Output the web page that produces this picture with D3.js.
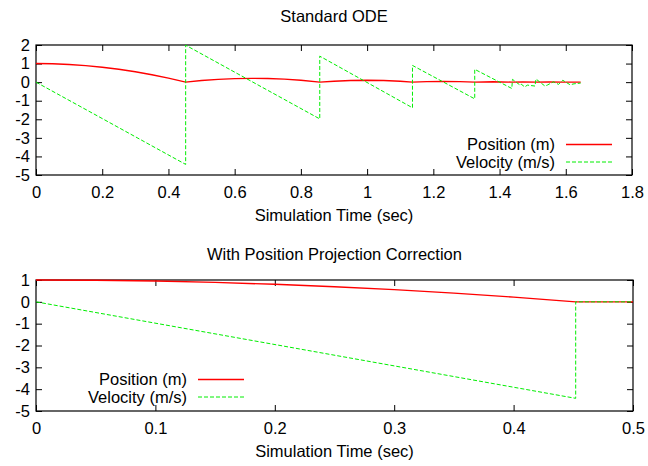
<!DOCTYPE html>
<html>
<head>
<meta charset="utf-8">
<script src="https://cdn.jsdelivr.net/npm/d3@7"></script>
<style>
    body { margin: 0; background: #fff; }
    text { font-family: "Liberation Sans", Arial, sans-serif; font-size: 16.5px; fill: #000; }
</style>
</head>
<body>
<div id="chart"></div>
<script>
// Standard ODE (bouncing, no correction)
const stdPosT = [0, 0.05, 0.1, 0.15, 0.2, 0.25, 0.3, 0.35, 0.4, 0.452, 0.5, 0.55, 0.6, 0.654, 0.7, 0.75, 0.8, 0.857,
    0.9, 0.95, 1.0, 1.05, 1.1, 1.137, 1.18, 1.23, 1.28, 1.325, 1.38, 1.437, 1.47, 1.51, 1.55, 1.59, 1.645];
const stdPos = [1, 0.988, 0.951, 0.89, 0.804, 0.694, 0.559, 0.4, 0.216, 0, 0.085, 0.149, 0.189, 0.204, 0.195, 0.161, 0.103, 0,
    0.051, 0.088, 0.1, 0.087, 0.051, 0, 0.03, 0.041, 0.028, 0, 0.02, 0, 0.01, 0, 0.008, 0, 0];
const stdVelT = [0, 0.452, 0.452, 0.857, 0.857, 1.137, 1.137, 1.325, 1.325, 1.437, 1.439, 1.462, 1.465, 1.476, 1.484,
    1.507, 1.51, 1.537, 1.544, 1.563, 1.578, 1.591, 1.613, 1.625, 1.645];
const stdVel = [0, -4.43, 1.99, -1.98, 1.4, -1.38, 0.9, -0.9, 0.69, -0.34, 0.15, -0.16, -0.1, -0.26, -0.16,
    -0.21, 0.17, -0.21, -0.16, 0.02, -0.12, 0.1, -0.14, -0.09, -0.05];

// With position projection correction
const corrPosT = [0, 0.05, 0.1, 0.15, 0.2, 0.25, 0.3, 0.35, 0.4, 0.452, 0.5];
const corrPos = [1, 0.988, 0.951, 0.89, 0.804, 0.694, 0.559, 0.4, 0.216, 0, 0];
const corrVelT = [0, 0.452, 0.452, 0.5];
const corrVel = [0, -4.42, 0, 0];

const stdXTicks = [0, 0.2, 0.4, 0.6, 0.8, 1, 1.2, 1.4, 1.6, 1.8];
const stdYTicks = [-5, -4, -3, -2, -1, 0, 1, 2];
const corrXTicks = [0, 0.1, 0.2, 0.3, 0.4, 0.5];
const corrYTicks = [-5, -4, -3, -2, -1, 0, 1];

const seriesNames = ["Position (m)", "Velocity (m/s)"];

const svg = d3.select("#chart")
    .append("svg")
    .attr("width", 648)
    .attr("height", 466);

function zip(t, v) {
    return t.map((d, i) => [d, v[i]]);
}

function drawPanel(opts) {
    const width = opts.right - opts.left;
    const height = opts.bottom - opts.top;
    const g = svg.append("g")
        .attr("transform", "translate(" + opts.left + "," + opts.top + ")");

    const x = d3.scaleLinear().domain(opts.xDomain).range([0, width]);
    const y = d3.scaleLinear().domain(opts.yDomain).range([height, 0]);
    const fmt = d => String(d);

    // title + x label
    svg.append("text")
        .attr("x", opts.left + width / 2)
        .attr("y", opts.titleY)
        .attr("text-anchor", "middle")
        .text(opts.title);
    svg.append("text")
        .attr("x", opts.left + width / 2)
        .attr("y", opts.bottom + 46)
        .attr("text-anchor", "middle")
        .text("Simulation Time (sec)");

    // axes, gnuplot style: ticks inside, mirrored
    g.append("g")
        .attr("transform", "translate(0," + height + ")")
        .call(d3.axisBottom(x).tickValues(opts.xTicks).tickFormat(fmt).tickSize(-6).tickPadding(11).tickSizeOuter(0));
    g.append("g")
        .call(d3.axisTop(x).tickValues(opts.xTicks).tickFormat("").tickSize(-6).tickSizeOuter(0));
    g.append("g")
        .call(d3.axisLeft(y).tickValues(opts.yTicks).tickFormat(fmt).tickSize(-6).tickPadding(6).tickSizeOuter(0));
    g.append("g")
        .attr("transform", "translate(" + width + ",0)")
        .call(d3.axisRight(y).tickValues(opts.yTicks).tickFormat("").tickSize(-6).tickSizeOuter(0));
    g.selectAll(".domain").remove();
    g.selectAll(".tick line").attr("stroke", "#000");
    g.selectAll(".tick text").style("font-size", "16.5px");

    g.append("rect")
        .attr("width", width)
        .attr("height", height)
        .attr("fill", "none")
        .attr("stroke", "#000")
        .attr("stroke-width", 1.2);

    const line = d3.line()
        .x(d => x(d[0]))
        .y(d => y(d[1]));

    g.append("path")
        .datum(zip(opts.posT, opts.pos))
        .attr("fill", "none")
        .attr("stroke", "#ff0000")
        .attr("stroke-width", 1.4)
        .attr("d", line);

    g.append("path")
        .datum(zip(opts.velT, opts.vel))
        .attr("fill", "none")
        .attr("stroke", "#00ee00")
        .attr("stroke-width", 1)
        .attr("stroke-dasharray", "4,2")
        .attr("d", line);

    // legend
    const lg = svg.append("g");
    const styles = [
        {stroke: "#ff0000", dash: null, w: 1.4},
        {stroke: "#00ee00", dash: "4,2", w: 1}
    ];
    seriesNames.forEach((name, i) => {
        const ly = opts.legendY + i * 17.5;
        lg.append("text")
            .attr("x", opts.legendX)
            .attr("y", ly)
            .attr("dy", "0.35em")
            .attr("text-anchor", "end")
            .text(name);
        lg.append("line")
            .attr("x1", opts.legendX + 11)
            .attr("x2", opts.legendX + 57)
            .attr("y1", ly)
            .attr("y2", ly)
            .attr("stroke", styles[i].stroke)
            .attr("stroke-width", styles[i].w)
            .attr("stroke-dasharray", styles[i].dash);
    });
}

drawPanel({
    title: "Standard ODE",
    titleY: 22,
    left: 36, right: 632, top: 45, bottom: 175,
    xDomain: [0, 1.8], yDomain: [-5, 2],
    xTicks: stdXTicks, yTicks: stdYTicks,
    posT: stdPosT, pos: stdPos, velT: stdVelT, vel: stdVel,
    legendX: 555, legendY: 144.5
});

drawPanel({
    title: "With Position Projection Correction",
    titleY: 260,
    left: 36, right: 633, top: 280, bottom: 411,
    xDomain: [0, 0.5], yDomain: [-5, 1],
    xTicks: corrXTicks, yTicks: corrYTicks,
    posT: corrPosT, pos: corrPos, velT: corrVelT, vel: corrVel,
    legendX: 187, legendY: 379.5
});
</script>
</body>
</html>
